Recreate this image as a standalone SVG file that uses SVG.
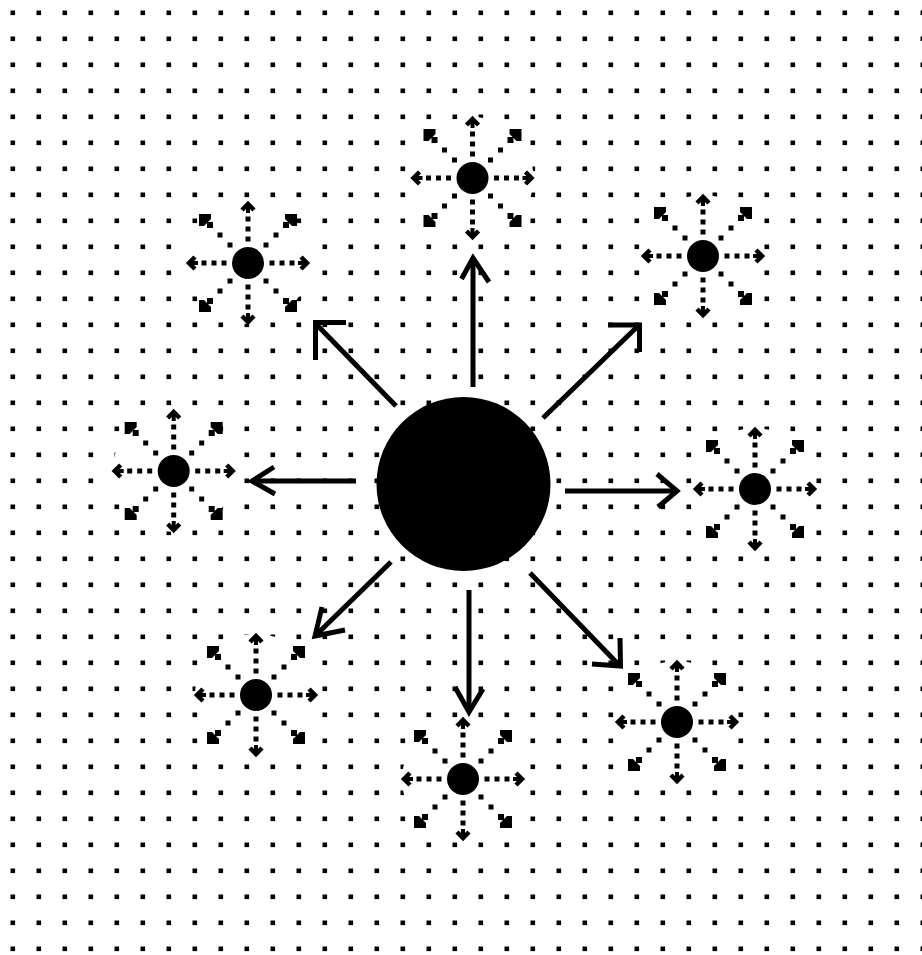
<svg xmlns="http://www.w3.org/2000/svg" xmlns:xlink="http://www.w3.org/1999/xlink" width="922" height="955" viewBox="0 0 922 955">
  <style>
    .conn line, .conn polyline { stroke: #000; stroke-width: 5; fill: none; stroke-linejoin: miter; stroke-miterlimit: 10; }
    .chev { stroke: #000; stroke-width: 4.5; fill: none; stroke-linejoin: miter; stroke-miterlimit: 10; }
    .dot { fill: #000; }
  </style>
  <defs>
    <pattern id="grid" width="26" height="26" patternUnits="userSpaceOnUse">
      <rect x="10.5" y="10.5" width="4.6" height="4.6" fill="#000"/>
    </pattern>
    <g id="ray">
      <rect class="dot" x="21.5" y="-2.5" width="5" height="5"/>
      <rect class="dot" x="31.5" y="-2.5" width="5" height="5"/>
      <rect class="dot" x="41.5" y="-2.5" width="5" height="5"/>
      <polyline class="chev" points="53,-6 59,0 53,6"/>
      <rect class="dot" x="50" y="-2" width="6" height="4"/>
    </g>
    <g id="diag">
      <rect class="dot" x="15.5" y="15.5" width="5" height="5"/>
      <rect class="dot" x="25.5" y="25.5" width="5" height="5"/>
      <rect class="dot" x="35" y="35" width="6" height="6"/>
      <polygon class="dot" points="49,49 37,49 37,44 44,37 49,37"/>
    </g>
    <g id="burst">
      <circle r="61" fill="#fff"/>
      <use href="#ray"/>
      <use href="#ray" transform="rotate(90)"/>
      <use href="#ray" transform="rotate(180)"/>
      <use href="#ray" transform="rotate(270)"/>
      <use href="#diag"/>
      <use href="#diag" transform="rotate(90)"/>
      <use href="#diag" transform="rotate(180)"/>
      <use href="#diag" transform="rotate(270)"/>
      <circle r="16" fill="#000"/>
    </g>
  </defs>

  <rect width="922" height="955" fill="#fff"/>
  <rect width="922" height="955" fill="url(#grid)"/>

  <g id="node-top" transform="translate(472.5,178)"><use href="#burst"/></g>
  <g id="node-top-left" transform="translate(248,263)"><use href="#burst"/></g>
  <g id="node-top-right" transform="translate(703,256)"><use href="#burst"/></g>
  <g id="node-left" transform="translate(173.7,471)"><use href="#burst"/></g>
  <g id="node-right" transform="translate(755,489)"><use href="#burst"/></g>
  <g id="node-bottom-left" transform="translate(256,695)"><use href="#burst"/></g>
  <g id="node-bottom" transform="translate(463,779)"><use href="#burst"/></g>
  <g id="node-bottom-right" transform="translate(677,722)"><use href="#burst"/></g>

  <g id="center">
    <circle cx="463.5" cy="484" r="87" fill="#000"/>
  </g>

  <g id="connectors" class="conn">
    <line x1="473" y1="387" x2="473" y2="260"/>
    <polyline points="461.5,279 473,258 489,282"/>

    <line x1="396" y1="406" x2="317" y2="325"/>
    <polyline points="346,322.5 315.5,322.5 315.5,360"/>

    <line x1="543" y1="418" x2="637" y2="327"/>
    <polyline points="608,325 639.5,325 639.5,352"/>

    <line x1="356" y1="481" x2="254" y2="481"/>
    <polyline points="274,467 252,481 275,494"/>

    <line x1="565" y1="491" x2="675" y2="491"/>
    <polyline points="657,474 677,491 658,507"/>

    <line x1="391" y1="562" x2="317" y2="634"/>
    <polyline points="322,607 315,636 345,630"/>

    <line x1="469" y1="590" x2="469" y2="710"/>
    <polyline points="455,687 469,712 483,689"/>

    <line x1="530" y1="573" x2="618" y2="664"/>
    <polyline points="620,638 620.5,666 592,664"/>
  </g>
</svg>
